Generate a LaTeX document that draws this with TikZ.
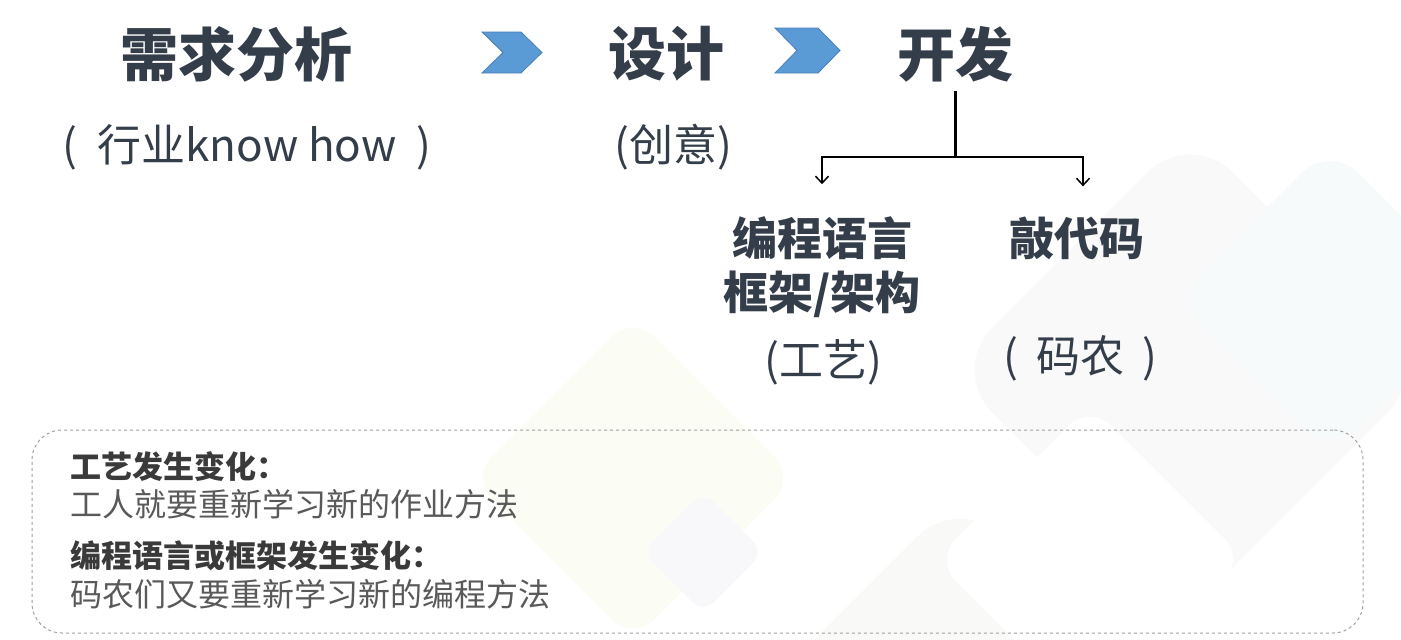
\documentclass[tikz,border=0pt]{standalone}
\usepackage{fontspec}
\setmainfont{Noto Sans CJK SC}
\usepackage{tikz}
\usetikzlibrary{arrows.meta, positioning}

\definecolor{slate}{HTML}{343D4A}
\definecolor{chevblue}{HTML}{5B9BD5}
\definecolor{chevedge}{HTML}{4A7EBB}
\definecolor{headgray}{HTML}{3A3A3A}
\definecolor{bodygray}{HTML}{595959}
\definecolor{bggray}{HTML}{F9F9FA}
\definecolor{bggreen}{HTML}{FBFCF4}
\definecolor{bgblue}{HTML}{F6FAFB}
\definecolor{bglilac}{HTML}{F8F8FB}
\definecolor{bgsage}{HTML}{F9FAF7}

\tikzset{
  head/.style={font=\fontsize{58}{62}\selectfont\bfseries, text=slate, inner sep=0pt},
  remark/.style={font=\fontsize{44}{48}\selectfont, text=slate, inner sep=0pt},
  sub/.style={font=\fontsize{45}{54}\selectfont\bfseries, text=slate, inner sep=0pt, align=center},
  chevron/.style={fill=chevblue, draw=chevedge, line width=0.8pt},
  branch/.style={line width=1.5pt, -{Straight Barb[length=7pt,width=13pt]}},
  notebox/.style={draw=gray!75, dashed, rounded corners=30pt, line width=1pt},
  notehead/.style={font=\fontsize{31}{34}\selectfont\bfseries, text=headgray, anchor=west, inner sep=0pt},
  notebody/.style={font=\fontsize{32}{34}\selectfont, text=bodygray, anchor=west, inner sep=0pt},
  tile/.style={rounded corners=#1},
}

\begin{document}
\begin{tikzpicture}[x=1pt, y=-1pt]
  \useasboundingbox (0,0) rectangle (1401,640);
  % faint background tiles
  \begin{scope}
    \clip (0,0) rectangle (1401,640);
    \fill[bggray, tile=60pt, rotate around={45:(1190,370)}] (1020,200) rectangle (1360,540);
    \fill[bgblue, tile=40pt, rotate around={45:(1330,300)}] (1220,190) rectangle (1440,410);
    \fill[bgsage, tile=60pt, rotate around={45:(960,720)}] (800,560) rectangle (1120,880);
    \fill[white, tile=30pt, rotate around={45:(1090,560)}] (980,450) rectangle (1200,670);
    \fill[bggreen, tile=30pt, rotate around={45:(633,478)}] (518,363) rectangle (748,593);
    \fill[bglilac, tile=15pt, rotate around={45:(703,552)}] (660,509) rectangle (746,595);
  \end{scope}

  % top row
  \node[head] (req) at (236,54) {需求分析};
  \node[head] (des) at (666,54) {设计};
  \node[head] (dev) at (955,54) {开发};
  \node[remark] (reqnote) at (247,147) {(\hspace{20pt}行业know how\hspace{20pt})};
  \node[remark] (desnote) at (673,147) {(创意)};

  \fill[chevron] (482,32) -- (521,32) -- (542,52.5) -- (521,73) -- (482,73) -- (503,52.5) -- cycle;
  \fill[chevron] (775,28) -- (818,28) -- (840,50.5) -- (818,73) -- (775,73) -- (797,50.5) -- cycle;

  % branches below 开发
  \node[sub] (lang) at (822,267) {编程语言\\框架/架构};
  \node[sub] (code) at (1077,238) {敲代码};
  \node[remark] (langnote) at (823,362) {(工艺)};
  \node[remark] (codenote) at (1080,358) {(\hspace{18pt}码农\hspace{18pt})};

  \coordinate (fork) at (955,157);
  \draw[line width=3pt, shorten <=9pt] (dev.south) -- (fork);
  \draw[branch, shorten >=32pt] (fork) -| (lang.north);
  \draw[branch, shorten >=30pt] (fork) -| ([xshift=6pt]code.north);

  % notes
  \node[notebox, minimum width=1331pt, minimum height=203pt] (box) at (697.5,531.5) {};
  \node[notehead] (n1) at (70,467) {工艺发生变化：};
  \node[notebody] (n2) at (70,504) {工人就要重新学习新的作业方法};
  \node[notehead] (n3) at (70,556) {编程语言或框架发生变化：};
  \node[notebody] (n4) at (70,594) {码农们又要重新学习新的编程方法};
\end{tikzpicture}
\end{document}
